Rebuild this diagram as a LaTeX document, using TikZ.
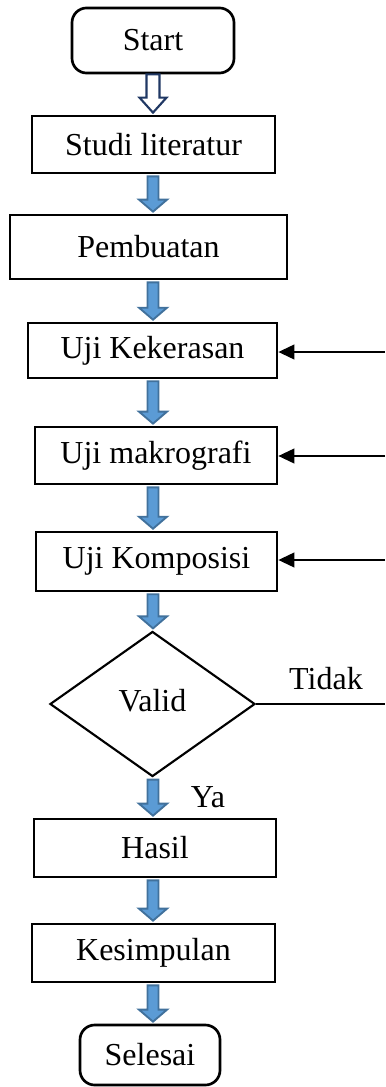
\documentclass[tikz,border=0pt]{standalone}
\usepackage{fontspec}
\setmainfont{Liberation Serif}
\usetikzlibrary{arrows.meta}
\usetikzlibrary{positioning}
\usetikzlibrary{calc, shapes.geometric}

\definecolor{arrowfill}{HTML}{5B9BD5}
\definecolor{arrowedge}{HTML}{41719C}
\definecolor{navy}{HTML}{203864}

% fat block arrow between two nodes, on the column (col)
\newcommand{\fatarrow}[3][blockarrow]{%
  \draw[#1] ($(col |- #2.south)+(-5.5,2)$) -- ($(col |- #2.south)+(5.5,2)$)
    -- ($(col |- #3.north)+(5.5,-14)$) -- ($(col |- #3.north)+(14,-14)$)
    -- ($(col |- #3.north)+(0,-2)$) -- ($(col |- #3.north)+(-14,-14)$)
    -- ($(col |- #3.north)+(-5.5,-14)$) -- cycle;}

\begin{document}
\begin{tikzpicture}[x=0.375pt, y=-0.375pt, >=Stealth, font=\fontsize{12}{14}\selectfont,
    box/.style={draw, line width=1pt, inner sep=0pt},
    term/.style={box, rounded corners=5.5pt},
    decision/.style={draw, line width=0.8pt, diamond, inner sep=0pt},
    blockarrow/.style={fill=arrowfill, draw=arrowedge, line width=0.7pt},
    openarrow/.style={fill=white, draw=navy, line width=0.8pt},
    feed/.style={line width=0.75pt, -{Triangle[length=6pt, width=5.5pt]}}]
        \useasboundingbox (0,0) rectangle (385,1087);
        \coordinate (col) at (153,0);

        \node[term, minimum width=60.75pt, minimum height=24.4pt] (start) at (153,40.5) {Start};
        \node[box, minimum width=91.1pt, minimum height=21.4pt] (studi) at (153.5,144.5) {Studi literatur};
        \node[box, minimum width=103.9pt, minimum height=24pt] (buat) at (148.5,247) {Pembuatan};
        \node[box, minimum width=93.4pt, minimum height=20.6pt] (keras) at (152.5,350.5) {Uji Kekerasan};
        \node[box, minimum width=90.75pt, minimum height=21.4pt] (makro) at (156,455.5) {Uji makrografi};
        \node[box, minimum width=90.4pt, minimum height=22.1pt] (kompo) at (156.5,561.5) {Uji Komposisi};
        \node[decision, minimum width=76.9pt, minimum height=54.4pt] (valid) at (152.5,704) {\raisebox{3pt}{Valid}};
        \node[box, minimum width=90.75pt, minimum height=21.75pt] (hasil) at (155,848) {Hasil};
        \node[box, minimum width=91.1pt, minimum height=21.75pt] (simpul) at (153.5,953) {Kesimpulan};
        \node[term, minimum width=52.5pt, minimum height=22.5pt] (selesai) at (150,1055) {Selesai};

        % open arrow from Start
        \draw[openarrow] ($(col |- start.south)+(-6.5,0)$) -- ($(col |- start.south)+(6.5,0)$)
          -- ($(col |- studi.north)+(6.5,-17)$) -- ($(col |- studi.north)+(13.5,-17)$)
          -- ($(col |- studi.north)+(0,-2)$) -- ($(col |- studi.north)+(-13.5,-17)$)
          -- ($(col |- studi.north)+(-6.5,-17)$) -- cycle;

        \fatarrow{studi}{buat}
        \fatarrow{buat}{keras}
        \fatarrow{keras}{makro}
        \fatarrow{makro}{kompo}
        \fatarrow{kompo}{valid}
        \fatarrow{valid}{hasil}
        \fatarrow{hasil}{simpul}
        \fatarrow{simpul}{selesai}

        % returns from the right
        \coordinate (r1) at (385,352);
        \coordinate (r2) at (385,456);
        \coordinate (r3) at (385,560);
        \coordinate (r4) at (valid.east -| r1);
        \draw[feed] (r1) -- (r1 -| keras.east);
        \draw[feed] (r2) -- (r2 -| makro.east);
        \draw[feed] (r3) -- (r3 -| kompo.east);
        \draw[line width=0.75pt] (valid.east) -- (r4);

        \node (tidak) at (326,679) {Tidak};
        \node (ya) at (208,797) {Ya};
      \end{tikzpicture}
\end{document}
